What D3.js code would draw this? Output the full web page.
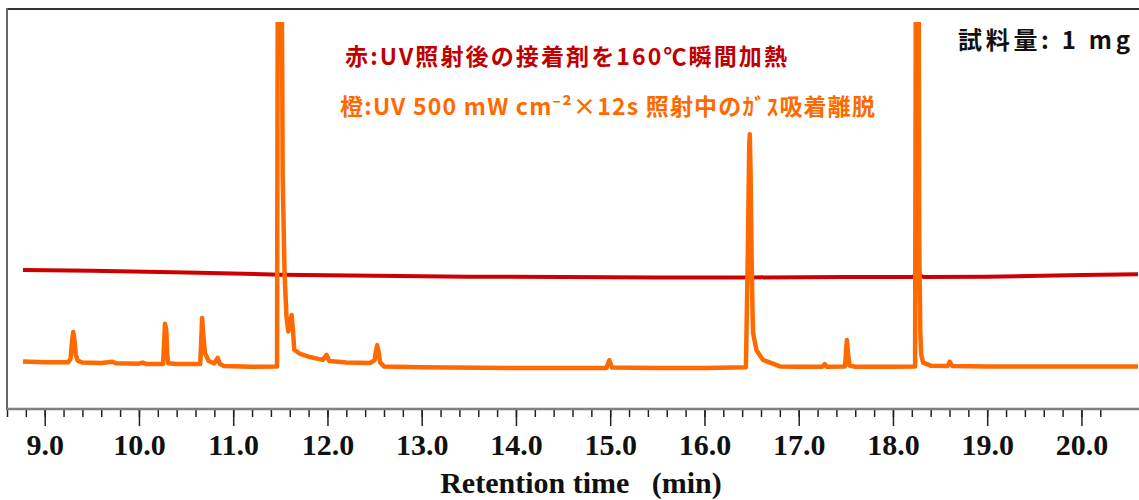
<!DOCTYPE html>
<html>
<head>
<meta charset="utf-8">
<script src="https://cdn.jsdelivr.net/npm/d3@7"></script>
<style>
  html, body { margin: 0; padding: 0; background: #fff; }
  svg { display: block; }
</style>
</head>
<body>
<div id="chart"></div>
<script>
// retention time (min) / signal for the orange trace (gas desorbed during UV)
var orangeTime = [8.77, 9.00, 9.25, 9.275, 9.29, 9.303, 9.315, 9.33, 9.35, 9.40, 9.60, 9.72, 9.76, 10.00, 10.04, 10.08,
  10.255, 10.265, 10.276, 10.29, 10.30, 10.31, 10.40, 10.65, 10.66, 10.67, 10.68, 10.70, 10.74, 10.80, 10.835, 10.86,
  10.90, 11.20, 11.465, 11.475, 11.51, 11.525, 11.545, 11.565, 11.584, 11.60, 11.62, 11.635, 11.648, 11.70, 11.80,
  11.95, 11.99, 12.02, 12.20, 12.45, 12.50, 12.515, 12.528, 12.54, 12.56, 12.60, 13.00, 14.00, 14.96, 14.99, 15.02,
  15.50, 16.00, 16.44, 16.46, 16.475, 16.481, 16.49, 16.50, 16.51, 16.516, 16.552, 16.62, 16.80, 17.00, 17.25, 17.277,
  17.30, 17.49, 17.50, 17.511, 17.525, 17.54, 17.60, 18.00, 18.235, 18.245, 18.27, 18.28, 18.29, 18.30, 18.32, 18.40,
  18.58, 18.603, 18.63, 19.00, 20.00, 20.60];
var orangeSignal = [12.3, 12.1, 12.1, 13.0, 17.5, 19.9, 18.0, 14.0, 12.5, 12.0, 11.9, 12.2, 11.8, 11.7, 12.0, 11.6,
  11.6, 16.0, 22.0, 20.5, 14.0, 11.8, 11.6, 11.6, 17.0, 23.5, 20.0, 14.5, 12.4, 11.8, 13.2, 11.6,
  11.1, 10.9, 11.0, 140, 140, 60, 35, 24, 20.0, 22.0, 24.3, 20.0, 15.3, 14.4, 13.5,
  12.7, 14.0, 12.4, 12.0, 11.9, 12.6, 15.0, 16.5, 15.0, 12.0, 11.0, 10.8, 10.6, 10.6, 12.6, 10.7,
  10.6, 10.6, 10.8, 40, 68, 71.0, 60, 40, 25, 19.6, 15.2, 12.7, 11.0, 10.9, 10.9, 11.6,
  10.9, 11.0, 14.0, 17.8, 14.0, 11.2, 10.9, 10.9, 11.0, 140, 140, 40, 20, 14, 12.0, 11.2,
  11.1, 12.2, 11.1, 11.0, 11.0, 11.0];

// red trace (adhesive after UV, flash heated at 160 C)
var redTime = [8.77, 9.50, 10.50, 11.50, 12.50, 13.50, 14.50, 15.50, 16.50, 17.50, 18.20, 18.24, 18.265, 18.29, 18.33,
  19.00, 20.00, 20.60];
var redSignal = [35.9, 35.7, 35.3, 34.7, 34.4, 34.2, 34.1, 34.0, 34.0, 34.1, 34.1, 34.4, 36.8, 34.5, 34.1,
  34.2, 34.6, 34.8];

var majorTicks = [9, 10, 11, 12, 13, 14, 15, 16, 17, 18, 19, 20];
var minorTicks = d3.range(8.6, 20.3, 0.2);

var W = 1139, H = 500;
var svg = d3.select('#chart').append('svg').attr('width', W).attr('height', H);

var x = d3.scaleLinear().domain([8.6, 20.6]).range([7, 1138]);
var y = d3.scaleLinear().domain([0, 100]).range([409, 22]);

svg.append('clipPath').attr('id', 'plotclip')
  .append('rect')
  .attr('x', x(8.6)).attr('y', y(100))
  .attr('width', W - x(8.6)).attr('height', y(0) - y(100));

// frame
svg.append('line').attr('x1', 7).attr('x2', W).attr('y1', 9).attr('y2', 9)
  .attr('stroke', '#333').attr('stroke-width', 2);
svg.append('line').attr('x1', 7).attr('x2', 7).attr('y1', 8).attr('y2', 410)
  .attr('stroke', '#666').attr('stroke-width', 2);

function toPts(ts, vs) { return ts.map(function (t, i) { return [t, vs[i]]; }); }
var line = d3.line().x(function (d) { return x(d[0]); }).y(function (d) { return y(d[1]); });

var g = svg.append('g').attr('clip-path', 'url(#plotclip)');
g.append('path').datum(toPts(redTime, redSignal))
  .attr('fill', 'none').attr('stroke', '#cc0000').attr('stroke-width', 4)
  .attr('stroke-linejoin', 'round').attr('d', line);
g.append('path').datum(toPts(orangeTime, orangeSignal))
  .attr('fill', 'none').attr('stroke', '#ff6a00').attr('stroke-width', 4.5)
  .attr('stroke-linejoin', 'round').attr('d', line);

// x axis
var serif = '"Liberation Serif", "Times New Roman", serif';
var ax = svg.append('g').attr('transform', 'translate(0,' + y(0) + ')');
ax.append('g').call(d3.axisBottom(x).tickValues(minorTicks).tickSize(8).tickFormat(''))
  .call(function (s) {
    s.select('.domain').remove();
    s.selectAll('.tick line').attr('stroke', '#222').attr('stroke-width', 1.5);
  });
ax.append('g').call(d3.axisBottom(x).tickValues(majorTicks).tickSize(17).tickFormat(d3.format('.1f')))
  .call(function (s) {
    s.select('.domain').remove();
    s.selectAll('.tick line').attr('stroke', '#222').attr('stroke-width', 1.5);
    s.selectAll('text').attr('dy', null).attr('y', 46)
      .attr('fill', '#111')
      .style('font-family', serif)
      .style('font-weight', 'bold').style('font-size', '30px');
  });
svg.append('line').attr('x1', 7).attr('x2', W).attr('y1', y(0)).attr('y2', y(0))
  .attr('stroke', '#808080').attr('stroke-width', 2.5);

svg.append('text')
  .attr('x', 581).attr('y', 493)
  .attr('text-anchor', 'middle')
  .style('white-space', 'pre')
  .style('font-family', serif)
  .style('font-weight', 'bold').style('font-size', '30px')
  .attr('fill', '#111')
  .text('Retention time   (min)');

// annotations
var jp = '"Noto Sans CJK JP", "Noto Sans", sans-serif';
svg.append('text').attr('x', 345).attr('y', 65)
  .attr('textLength', 442).attr('lengthAdjust', 'spacing')
  .style('font-family', jp).style('font-weight', 'bold').style('font-size', '23px')
  .attr('fill', '#c00000')
  .text('赤:UV照射後の接着剤を160℃瞬間加熱');
svg.append('text').attr('x', 340).attr('y', 115)
  .attr('textLength', 535).attr('lengthAdjust', 'spacing')
  .style('font-family', jp).style('font-weight', 'bold').style('font-size', '23px')
  .attr('fill', '#ff6a00')
  .text('橙:UV 500 mW cm⁻²×12s 照射中のｶﾞｽ吸着離脱');
svg.append('text').attr('x', 958).attr('y', 49)
  .attr('textLength', 172).attr('lengthAdjust', 'spacing')
  .style('font-family', jp).style('font-weight', 'bold').style('font-size', '24px')
  .attr('fill', '#111')
  .text('試料量: 1 mg');
</script>
</body>
</html>
